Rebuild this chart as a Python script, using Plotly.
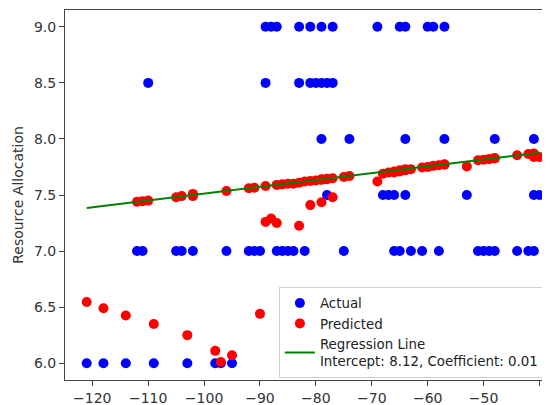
import plotly.graph_objects as go

# Actual values, grouped by level
row_90_x = [-89, -88, -87, -83, -81, -79, -77, -69, -65, -64, -60, -59, -57]
row_85_x = [-110, -89, -83, -81, -80, -79, -78, -77]
row_80_x = [-79, -74, -64, -57, -48, -41]
row_75_x = [-102, -78, -68, -67, -66, -64, -53, -41, -40]
row_70_x = [-112, -111, -105, -104, -102, -96, -92, -91, -90, -87, -86, -85, -84,
            -82, -75, -66, -65, -63, -61, -58, -51, -50, -49, -48, -44, -42, -41]
row_60_x = [-121, -118, -114, -109, -103, -98, -97, -95]

actual_x = row_90_x + row_85_x + row_80_x + row_75_x + row_70_x + row_60_x
actual_y = ([9.0] * len(row_90_x) + [8.5] * len(row_85_x) + [8.0] * len(row_80_x)
            + [7.5] * len(row_75_x) + [7.0] * len(row_70_x) + [6.0] * len(row_60_x))

# Predicted values
pred_x = [-121, -118, -114, -112, -111, -110, -109, -105, -104, -103, -102, -102,
          -98, -97, -96, -95, -92, -91, -90, -89, -89, -88, -87, -87, -86, -85,
          -84, -83, -83, -82, -81, -81, -80, -79, -79, -79, -78, -78, -77, -77,
          -75, -74, -69, -68, -67, -66, -66, -65, -65, -64, -64, -64, -63, -61,
          -60, -59, -58, -57, -57, -53, -51, -50, -49, -48, -48, -44, -42, -41,
          -41, -41, -40]
pred_y = [6.545, 6.49, 6.425, 7.44, 7.445, 7.45, 6.35, 7.48, 7.49, 6.25, 7.49, 7.51,
          6.11, 6.01, 7.535, 6.07, 7.56, 7.565, 6.44, 7.26, 7.58, 7.29, 7.25, 7.59, 7.595, 7.60,
          7.60, 7.225, 7.61, 7.62, 7.41, 7.625, 7.63, 7.435, 7.635, 7.64, 7.64, 7.645, 7.48, 7.65,
          7.66, 7.67, 7.62, 7.69, 7.70, 7.70, 7.71, 7.71, 7.72, 7.72, 7.72, 7.73, 7.73, 7.745,
          7.75, 7.76, 7.765, 7.77, 7.775, 7.755, 7.81, 7.815, 7.82, 7.825, 7.83, 7.855, 7.865, 7.87,
          7.84, 7.85, 7.84]

# Regression line (endpoints)
line_x = [-121, -40]
line_y = [7.385, 7.877]
line_label = "Regression Line<br>Intercept: 8.12, Coefficient: 0.01"

FONT = "DejaVu Sans"
FS = 14

fig = go.Figure()
fig.add_trace(go.Scatter(x=actual_x, y=actual_y, mode="markers", name="Actual",
                         marker=dict(color="blue", size=10)))
fig.add_trace(go.Scatter(x=pred_x, y=pred_y, mode="markers", name="Predicted",
                         marker=dict(color="red", size=10)))
fig.add_trace(go.Scatter(x=line_x, y=line_y, mode="lines", name=line_label,
                         line=dict(color="green", width=2)))

# the page body adds an 8px offset, so the figure is 8px smaller than the window
fig.update_layout(
    width=542, height=397,
    margin=dict(l=57, r=0, t=2, b=25, autoexpand=False),
    paper_bgcolor="white", plot_bgcolor="white",
    font=dict(family=FONT, size=FS, color="#333"),
    legend=dict(x=0.441, y=0.252, xanchor="left", yanchor="top",
                bgcolor="rgba(255,255,255,0.85)", bordercolor="#d0d0d0", borderwidth=1,
                font=dict(family=FONT, size=13.4, color="#222"), tracegroupgap=0),
    showlegend=True,
)
fig.update_xaxes(range=[-124.88, -38.12], tickvals=[-120, -110, -100, -90, -80, -70, -60, -50, -40],
                 automargin=False,
                 showgrid=False, zeroline=False, showline=True, linecolor="#444", linewidth=1,
                 mirror=True, ticks="outside", ticklen=5, tickcolor="#444",
                 tickfont=dict(family=FONT, size=FS, color="#333"))
fig.update_yaxes(range=[5.85, 9.15], tickvals=[6.0, 6.5, 7.0, 7.5, 8.0, 8.5, 9.0],
                 ticktext=["6.0", "6.5", "7.0", "7.5", "8.0", "8.5", "9.0"],
                 automargin=False,
                 showgrid=False, zeroline=False, showline=True, linecolor="#444", linewidth=1,
                 ticks="outside", ticklen=5, tickcolor="#444",
                 tickfont=dict(family=FONT, size=FS, color="#333"),
                 title=dict(text="Resource Allocation", font=dict(family=FONT, size=14, color="#333"),
                            standoff=7))

fig.write_html("out.html")
